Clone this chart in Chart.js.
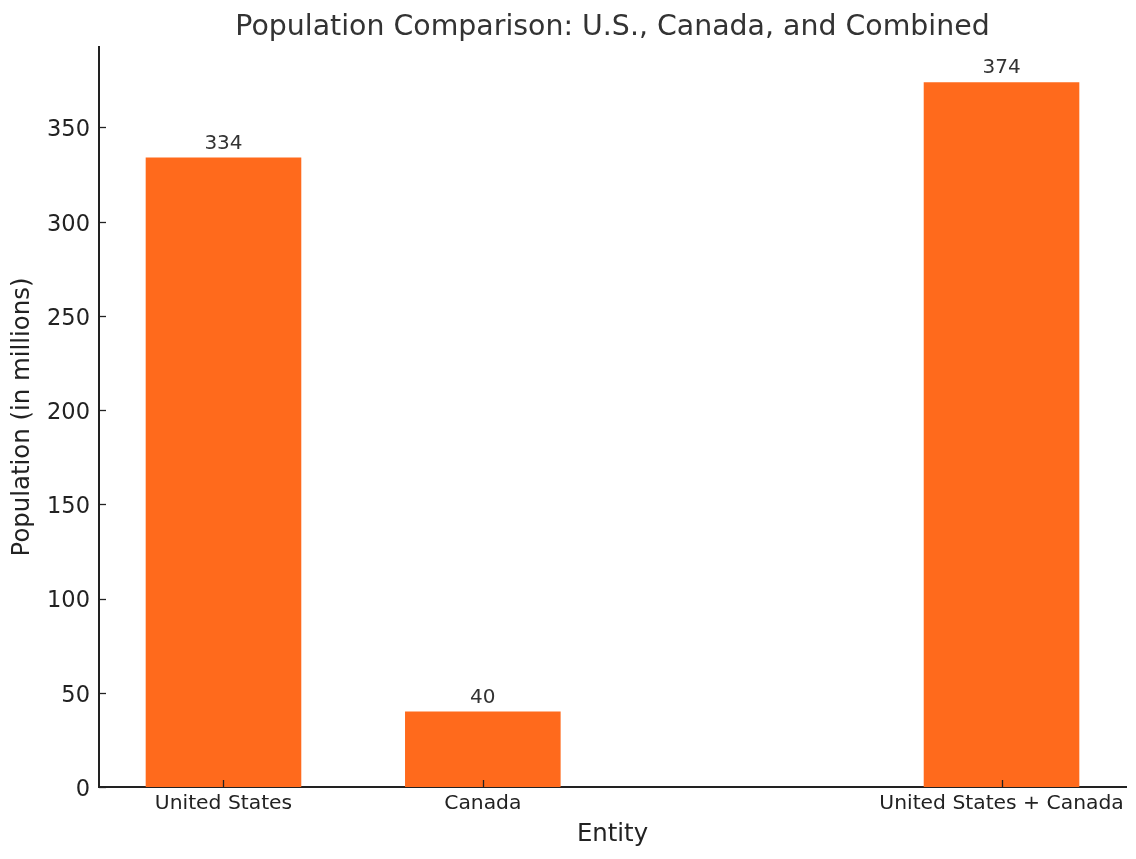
<!DOCTYPE html>
<html><head><meta charset="utf-8">
<script src="https://cdn.jsdelivr.net/npm/chart.js@4.4.0/dist/chart.umd.min.js"></script>
<style>html,body{margin:0;padding:0;background:#fff}#wrap{width:1136px;height:859px}</style>
</head><body><div id="wrap"><canvas id="c" width="1136" height="859"></canvas></div>
<script>
// ---- data ----
const categories = ['United States', 'Canada', '', 'United States + Canada'];
const populations = [334, 40, null, 374];
const yTicks = [0, 50, 100, 150, 200, 250, 300, 350];
const chartTitle = 'Population Comparison: U.S., Canada, and Combined';
const xAxisTitle = 'Entity';
const yAxisTitle = 'Population (in millions)';

// ---- build ----
const points = [];
categories.forEach((c, i) => { if (populations[i] !== null) points.push({ x: i, y: populations[i] }); });
const xTickValues = points.map(p => p.x);
const yMax = Math.max(...populations.filter(v => v !== null)) * 1.05;
const FONT = "'DejaVu Sans', sans-serif";

const decor = {
  id: 'decor',
  afterDatasetsDraw(chart) {
    const { ctx, chartArea } = chart;
    const xs = chart.scales.x, ys = chart.scales.y;
    ctx.save();
    // inward tick marks
    ctx.strokeStyle = '#222';
    ctx.lineWidth = 1.3;
    xs.ticks.forEach(t => {
      const px = Math.round(xs.getPixelForValue(t.value)) + 0.5;
      ctx.beginPath(); ctx.moveTo(px, chartArea.bottom); ctx.lineTo(px, chartArea.bottom - 7); ctx.stroke();
    });
    ys.ticks.forEach(t => {
      const py = Math.round(ys.getPixelForValue(t.value)) + 0.5;
      ctx.beginPath(); ctx.moveTo(chartArea.left, py); ctx.lineTo(chartArea.left + 7, py); ctx.stroke();
    });
    // value labels
    const meta = chart.getDatasetMeta(0);
    ctx.fillStyle = '#333';
    ctx.font = '20px ' + FONT;
    ctx.textAlign = 'center';
    ctx.textBaseline = 'alphabetic';
    meta.data.forEach((el, i) => {
      ctx.fillText(String(points[i].y), el.x, el.y - 9);
    });
    // title
    ctx.fillStyle = '#333';
    ctx.font = '28.4px ' + FONT;
    ctx.fillText(chartTitle, (chartArea.left + chartArea.right) / 2, 35);
    ctx.restore();
  }
};

new Chart(document.getElementById('c'), {
  type: 'bar',
  data: {
    datasets: [{
      data: points,
      backgroundColor: '#ff6a1c',
      borderWidth: 0,
      barPercentage: 0.6,
      categoryPercentage: 1.0
    }]
  },
  options: {
    responsive: false,
    animation: false,
    devicePixelRatio: 1,
    layout: { padding: { top: 47, right: 10, bottom: 0, left: 0 } },
    plugins: { legend: { display: false }, title: { display: false }, tooltip: { enabled: false } },
    scales: {
      x: {
        type: 'linear',
        min: -0.48,
        max: 3.48,
        offset: false,
        grid: { display: false, drawTicks: false },
        border: { display: true, color: '#222', width: 2 },
        afterBuildTicks(s) { s.ticks = xTickValues.map(v => ({ value: v })); },
        afterFit(s) { s.height = 72; },
        ticks: {
          autoSkip: false,
          maxRotation: 0,
          padding: 5,
          color: '#222',
          font: { family: FONT, size: 20.3 },
          callback: (v) => categories[v]
        },
        title: { display: true, text: xAxisTitle, color: '#222', font: { family: FONT, size: 24.4 }, padding: { top: 4, bottom: 10 } }
      },
      y: {
        type: 'linear',
        min: 0,
        max: yMax,
        grid: { display: false, drawTicks: false },
        border: { display: true, color: '#222', width: 2 },
        afterBuildTicks(s) { s.ticks = yTicks.map(v => ({ value: v })); },
        afterFit(s) { s.width = 99; },
        ticks: {
          padding: 9,
          labelOffset: 3,
          color: '#222',
          font: { family: FONT, size: 22.5 },
          callback: (v) => String(v)
        },
        title: { display: true, text: yAxisTitle, color: '#222', font: { family: FONT, size: 24.4 }, padding: { top: 8, bottom: 4 } }
      }
    }
  },
  plugins: [decor]
});
</script>
</body></html>
